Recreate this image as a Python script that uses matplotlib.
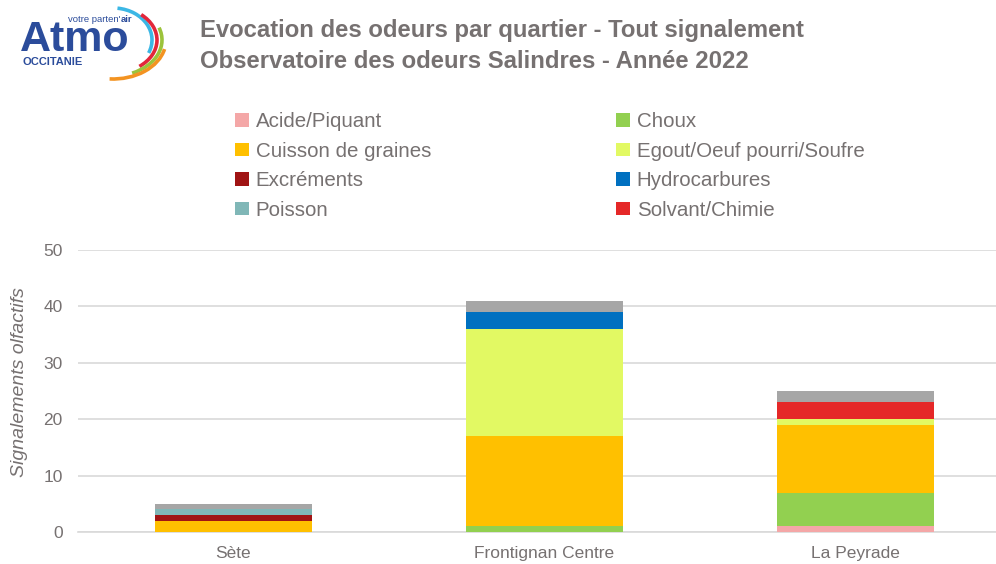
import matplotlib
matplotlib.use("Agg")
import matplotlib.pyplot as plt
from matplotlib.patches import Arc
import numpy as np

plt.rcParams['font.family'] = ['Liberation Sans Narrow', 'Liberation Sans', 'DejaVu Sans']

categories = ["Sète", "Frontignan Centre", "La Peyrade"]
series_names = ["Acide/Piquant", "Choux", "Cuisson de graines", "Egout/Oeuf pourri/Soufre",
                "Excréments", "Hydrocarbures", "Poisson", "Solvant/Chimie", "Autre"]
acide = [0, 0, 1]
choux = [0, 1, 6]
cuisson = [2, 16, 12]
egout = [0, 19, 1]
excrements = [1, 0, 0]
hydrocarbures = [0, 3, 0]
poisson = [1, 0, 0]
solvant = [0, 0, 3]
autre = [1, 2, 2]
series_values = [acide, choux, cuisson, egout, excrements, hydrocarbures, poisson, solvant, autre]
colors = ["#F4A7A7", "#92D050", "#FFC000", "#E2F963", "#A01414", "#0070C0", "#80B7B7", "#E52828", "#A6A6A6"]
yticks = [0, 10, 20, 30, 40, 50]

TXT = "#767171"

fig = plt.figure(figsize=(9.96, 5.64), dpi=100)
ax = fig.add_axes([78/996, 32/564, 918/996, 282/564])

x = np.arange(len(categories))
bottom = np.zeros(len(categories))
handles = {}
for name, vals, col in zip(series_names, series_values, colors):
    b = ax.bar(x, vals, width=0.505, bottom=bottom, color=col, edgecolor='none', zorder=3)
    handles[name] = b
    bottom += np.array(vals)

ax.set_xlim(-0.5, 2.452)
ax.set_ylim(0, 50)
ax.set_yticks(yticks)
ax.yaxis.grid(True, color="#D9D9D9", linewidth=1.2, zorder=0)
for s in ['top', 'right', 'left']:
    ax.spines[s].set_visible(False)
ax.spines['bottom'].set_color("#D9D9D9")
ax.spines['bottom'].set_linewidth(1.2)
ax.tick_params(axis='both', length=0, colors=TXT, labelsize=12.5)
ax.tick_params(axis='y', pad=11)
ax.tick_params(axis='x', pad=10)
ax.set_xticks(x)
ax.set_xticklabels(categories)
ax.set_ylabel("Signalements olfactifs", color=TXT, fontsize=14, style='italic')
ax.yaxis.set_label_coords(-0.054, 0.53)

# Legend (two columns)
col1 = ["Acide/Piquant", "Cuisson de graines", "Excréments", "Poisson"]
col2 = ["Choux", "Egout/Oeuf pourri/Soufre", "Hydrocarbures", "Solvant/Chimie"]
for names, xpos in [(col1, 227/996), (col2, 608/996)]:
    fig.legend([handles[n] for n in names], names, loc='upper left',
               bbox_to_anchor=(xpos, 1 - 104/564), frameon=False, fontsize=14.8,
               handlelength=0.65, handleheight=0.65, handletextpad=0.35,
               labelspacing=0.51, borderaxespad=0, labelcolor=TXT)

# Title
fig.text(200/996, 1 - 30/564, "Evocation des odeurs par quartier - Tout signalement",
         fontsize=17.2, fontweight='bold', color=TXT, va='center', ha='left')
fig.text(200/996, 1 - 62/564, "Observatoire des odeurs Salindres - Année 2022",
         fontsize=17.2, fontweight='bold', color=TXT, va='center', ha='left')

# Logo
lax = fig.add_axes([0, 1 - 90/564, 200/996, 90/564])
lax.set_xlim(0, 200)
lax.set_ylim(90, 0)
lax.axis('off')
LF = ['Liberation Sans', 'DejaVu Sans']
BLUE = "#2B4C9B"
lax.text(20, 51, "Atmo", fontsize=31, fontweight='bold', color=BLUE, va='baseline', ha='left', family=LF)
t1 = lax.text(68, 22, "votre parten'", fontsize=6.8, color=BLUE, va='baseline', ha='left', family=LF)
lax.annotate("air", xy=(1, 0), xycoords=t1, fontsize=6.8, fontweight='bold', color=BLUE,
             va='bottom', ha='left', family=LF)
lax.text(22, 65, "OCCITANIE", fontsize=8, fontweight='bold', color=BLUE, va='baseline', ha='left', family=LF)
# arcs: (color, width, height, screen-angle start, screen-angle end)
arc_specs = [("#3BB7E5", 78, 64, -20, 82), ("#E3263A", 88, 66, -45, 42),
             ("#9CC33B", 98, 72, -60, 15), ("#F39321", 106, 78, -95, -10)]
cx, cy = 113, 40
for col, w, h, a1, a2 in arc_specs:
    lax.add_patch(Arc((cx, cy), w, h, theta1=-a2, theta2=-a1, color=col, linewidth=2.6))

fig.savefig("out.png", dpi=100)
